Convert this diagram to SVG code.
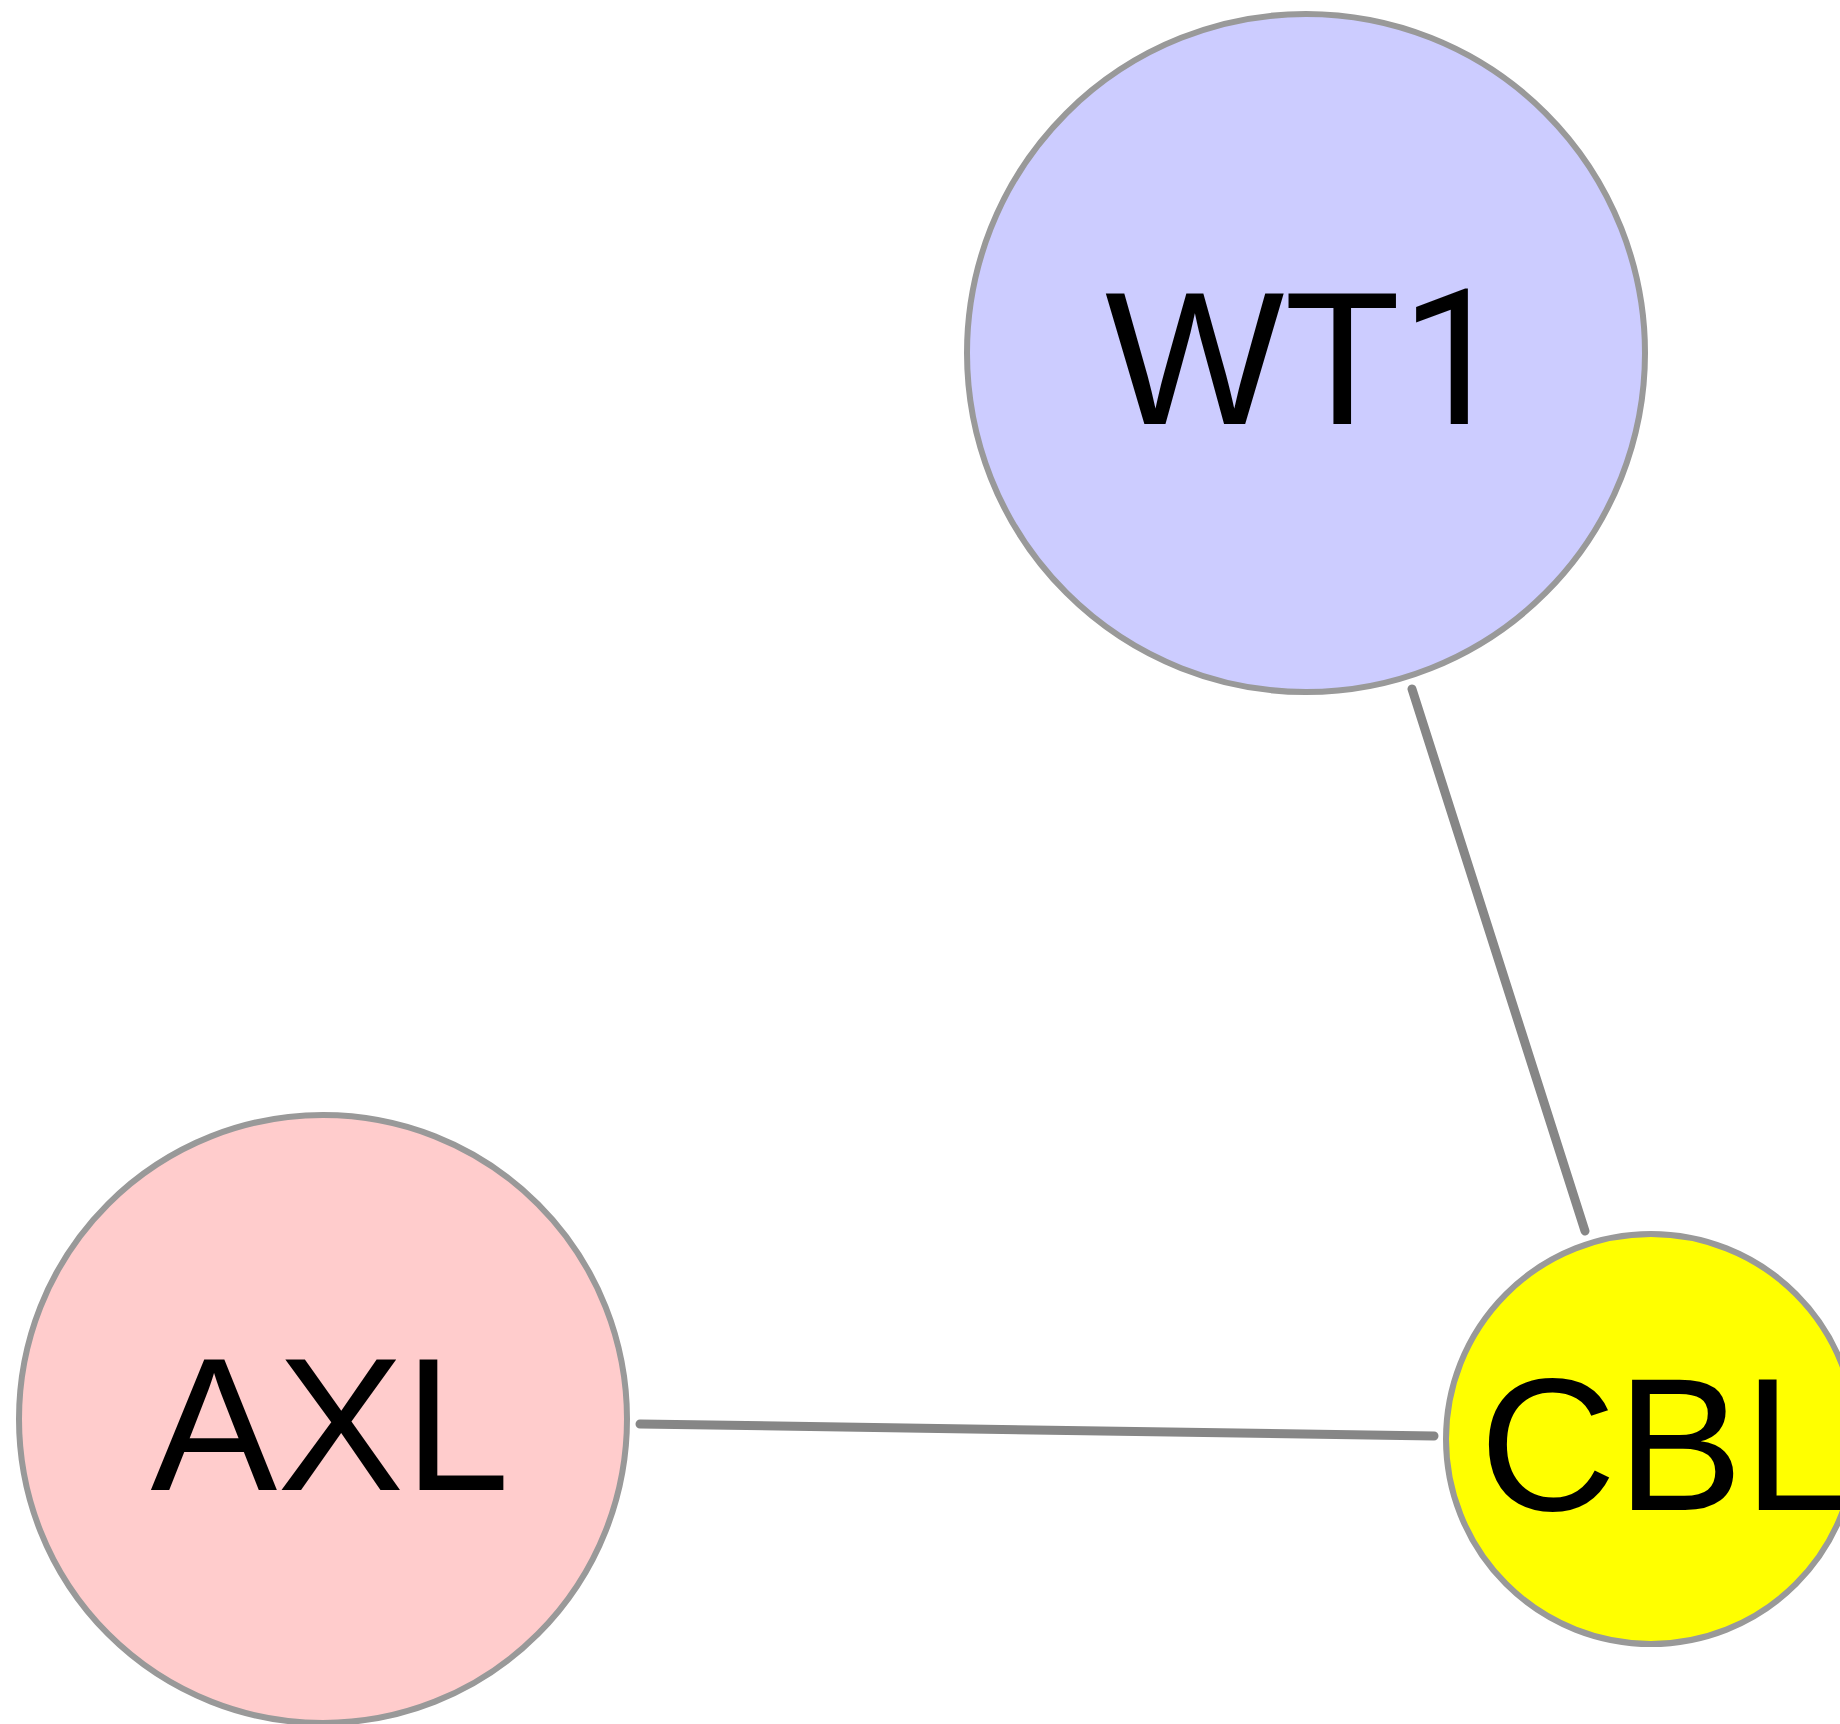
<svg xmlns="http://www.w3.org/2000/svg" width="1840" height="1724" viewBox="0 0 1840 1724">
<style>
.node{stroke:#999999;stroke-width:6}
.lbl{font-family:"Liberation Sans",Arial,sans-serif;font-size:190px;fill:#000000;text-anchor:middle}
.digit{font-family:Roboto,"Liberation Sans",sans-serif}
.edge{stroke:#868686;stroke-width:9;stroke-linecap:round;fill:none}
</style>
<rect x="0" y="0" width="1840" height="1724" fill="#ffffff"/>
<g id="connectors">
<line class="edge" x1="1412" y1="689" x2="1585" y2="1231"/>
<line class="edge" x1="640" y1="1424" x2="1434" y2="1436"/>
</g>
<g id="node-WT1">
<circle class="node" cx="1306" cy="353" r="339" fill="#ccccff"/>
<text class="lbl" x="1306" y="424">WT<tspan class="digit">1</tspan></text>
</g>
<g id="node-AXL">
<circle class="node" cx="323" cy="1419" r="304" fill="#ffcccc"/>
<text class="lbl" x="330" y="1490">AXL</text>
</g>
<g id="node-CBL">
<circle class="node" cx="1651" cy="1439" r="205" fill="#ffff00"/>
<text class="lbl" x="1664" y="1510">CBL</text>
</g>
</svg>
